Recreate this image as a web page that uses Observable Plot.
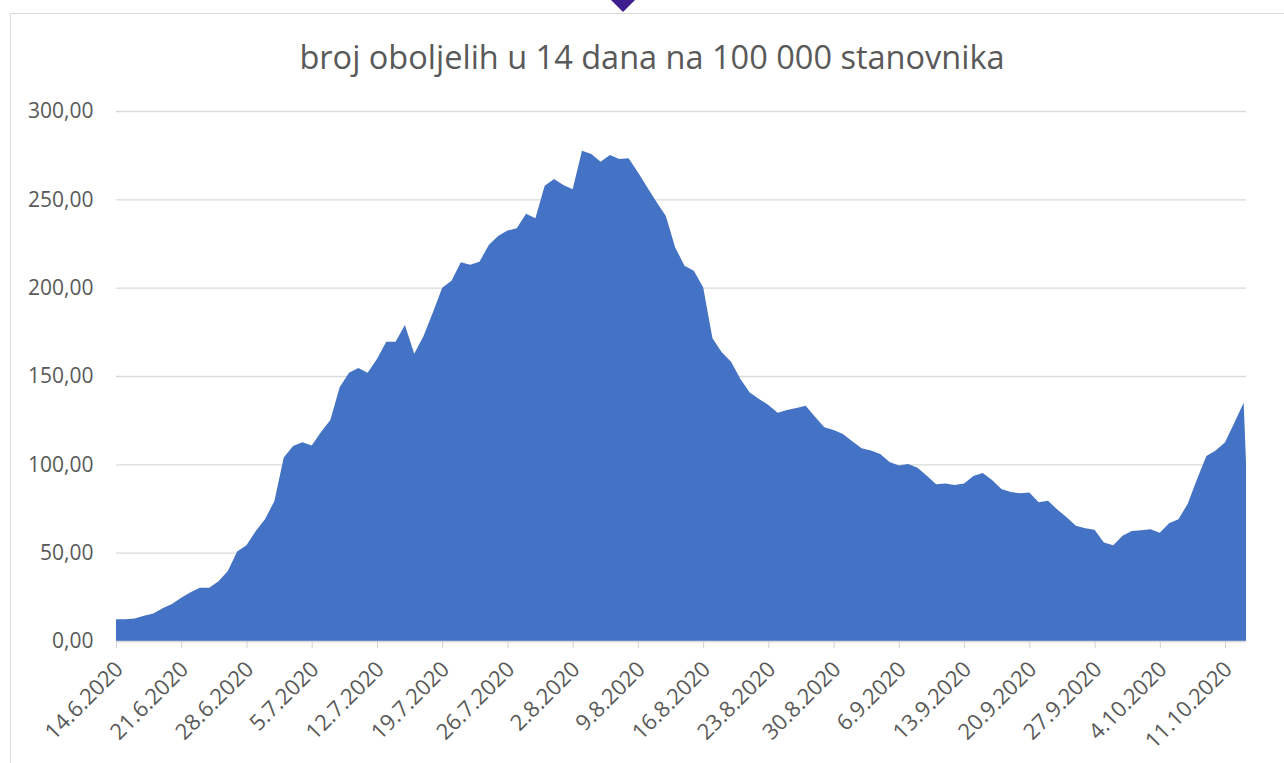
<!DOCTYPE html>
<html>
<head>
<meta charset="utf-8">
<script src="https://cdn.jsdelivr.net/npm/d3@7"></script>
<script src="https://cdn.jsdelivr.net/npm/@observablehq/plot@0.6"></script>
<style>
  html, body { margin: 0; padding: 0; background: #fff; width: 1284px; height: 763px; overflow: hidden; }
  #wrap { position: relative; width: 1284px; height: 763px; }
  #frame { position: absolute; left: 10px; top: 13px; width: 1300px; height: 800px; border-left: 1px solid #d9d9d9; border-top: 1px solid #d9d9d9; box-sizing: border-box; }
  #marker { position: absolute; left: 611px; top: 0; width: 0; height: 0; border-left: 12px solid transparent; border-right: 12px solid transparent; border-top: 12px solid #3f1f8f; }
  #title { position: absolute; left: 10px; width: 1284px; top: 34px; text-align: center; font-family: "Open Sans", sans-serif; font-size: 32.5px; color: #595959; line-height: 46px; white-space: nowrap; }
  #chart { position: absolute; left: 0; top: 0; }
</style>
</head>
<body>
<div id="wrap">
  <div id="frame"></div>
  <div id="marker"></div>
  <div id="title">broj oboljelih u 14 dana na 100 000 stanovnika</div>
  <div id="chart"></div>
</div>
<script>
// first date of the daily series (14.6.2020), one value per day
const startDate = "2020-06-14";
const values = [
  12.3,12.3,12.8,14.3,15.5,18.5,20.9,24.5,27.6,30.2,
  30.2,33.8,39.6,50.6,54.2,62.3,69.1,79.2,103.8,110.4,
  112.5,110.7,118.3,125.1,143.6,151.9,154.5,151.9,159.6,169.4,
  169.4,178.9,162.6,172.6,186.0,200.0,203.9,214.4,213.0,214.7,
  224.1,229.2,232.3,233.6,241.9,239.3,257.7,261.5,258.1,255.7,
  277.5,275.6,271.3,275.1,272.8,273.2,265.3,256.8,248.5,240.5,
  222.8,212.4,209.6,200.2,171.3,163.4,158.1,148.3,140.6,137.0,
  133.6,129.2,130.8,131.9,133.2,127.0,121.0,119.4,117.2,113.0,
  109.1,107.9,105.8,101.3,99.4,100.2,98.1,93.6,88.7,89.2,
  88.3,89.2,93.4,95.1,91.1,86.0,84.3,83.6,84.0,78.5,
  79.4,74.5,70.0,65.3,63.8,63.0,55.7,54.2,59.6,62.3,
  62.7,63.2,61.3,66.6,68.9,77.7,91.7,104.7,107.9,112.5,
  123.6,134.9,0
];
const xTickLabels = ["14.6.2020","21.6.2020","28.6.2020","5.7.2020","12.7.2020","19.7.2020","26.7.2020","2.8.2020","9.8.2020","16.8.2020","23.8.2020","30.8.2020","6.9.2020","13.9.2020","20.9.2020","27.9.2020","4.10.2020","11.10.2020"];
const yTicks = [0, 50, 100, 150, 200, 250, 300];
const xDomainEnd = "2020-10-13T06:00Z";

const parseDMY = s => { const [d, m, y] = s.split(".").map(Number); return new Date(Date.UTC(y, m - 1, d)); };
const start = new Date(startDate + "T00:00Z");
const data = values.map((v, i) => ({date: d3.utcDay.offset(start, i), value: v}));
const xTicks = xTickLabels.map((label) => ({date: parseDMY(label), label}));
const fmtY = v => d3.format(".2f")(v).replace(".", ",");

const chart = Plot.plot({
  width: 1284,
  height: 763,
  marginTop: 111,
  marginBottom: 122,
  marginLeft: 116,
  marginRight: 38,
  x: {type: "utc", domain: [start, new Date(xDomainEnd)]},
  y: {domain: [0, 300]},
  style: {fontFamily: "'Open Sans', sans-serif", fontSize: "21px", color: "#595959", background: "transparent", overflow: "visible"},
  marks: [
    Plot.gridY(yTicks, {stroke: "#d9d9d9", strokeOpacity: 1, strokeWidth: 1.3}),
    Plot.areaY(data, {x: "date", y: "value", fill: "#4472C4", clip: true}),
    Plot.ruleY([0], {stroke: "#d9d9d9", strokeWidth: 1.3}),
    Plot.axisX(xTicks.map(d => d.date), {tickSize: 7, tickFormat: () => "", stroke: "#d0d0d0", label: null}),
    Plot.text(xTicks, {x: "date", text: "label", frameAnchor: "bottom", dx: 3, dy: 24, rotate: -45, textAnchor: "end", lineAnchor: "middle", fill: "#595959", fontSize: 22}),
    Plot.axisY(yTicks, {tickSize: 0, tickPadding: 23, tickFormat: fmtY, fill: "#595959", fontSize: 21, label: null})
  ]
});
document.getElementById("chart").appendChild(chart);
</script>
</body>
</html>
